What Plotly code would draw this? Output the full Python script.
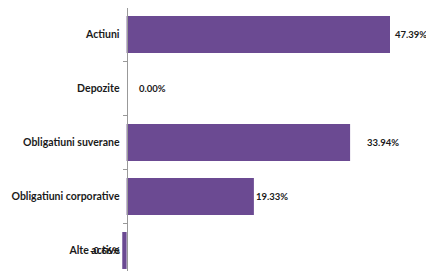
import plotly.graph_objects as go

categories = ["Actiuni", "Depozite", "Obligatiuni suverane", "Obligatiuni corporative", "Alte active"]
values = [47.39, 0.00, 33.94, 19.33, -0.66]
labels = ["47.39%", "0.00%", "33.94%", "19.33%", "-0.66%"]

XMIN, XMAX = -0.7, 40
label_shift = [3, 10, 15, 0, 0]

fig = go.Figure()
fig.add_trace(go.Bar(
    y=categories, x=values, orientation="h", width=0.685,
    marker=dict(color="#6B4A92", line=dict(width=0)),
    hoverinfo="skip",
))

for c, v, t, s in zip(categories, values, labels, label_shift):
    xv = min(v, XMAX)
    fig.add_annotation(
        x=xv, y=c, xref="x", yref="y", text=t, showarrow=False,
        xanchor="left" if v >= 0 else "right", xshift=s if v >= 0 else 0,
        font=dict(family="Lato", size=9.5, color="#1a1a1a", weight="bold"),
    )

fig.update_layout(
    width=418, height=263,
    margin=dict(l=114, r=36, t=0, b=0, autoexpand=False),
    paper_bgcolor="white", plot_bgcolor="white",
    showlegend=False,
    xaxis=dict(range=[XMIN, XMAX], domain=[0, 1], showticklabels=False, showgrid=False,
               zeroline=False, showline=False, ticks="", automargin=False),
    yaxis=dict(categoryorder="array", categoryarray=categories,
               range=[4.38, -0.49], anchor="free",
               position=(0 - XMIN) / (XMAX - XMIN), automargin=False,
               showline=True, linecolor="#999999", linewidth=1,
               ticks="outside", ticklen=4, tickcolor="#999999",
               tickson="boundaries", showgrid=False, layer="above traces",
               ticklabelstandoff=5,
               tickfont=dict(family="Lato", size=10.5, color="#1a1a1a", weight="bold")),
)

fig.write_html("out.html")
